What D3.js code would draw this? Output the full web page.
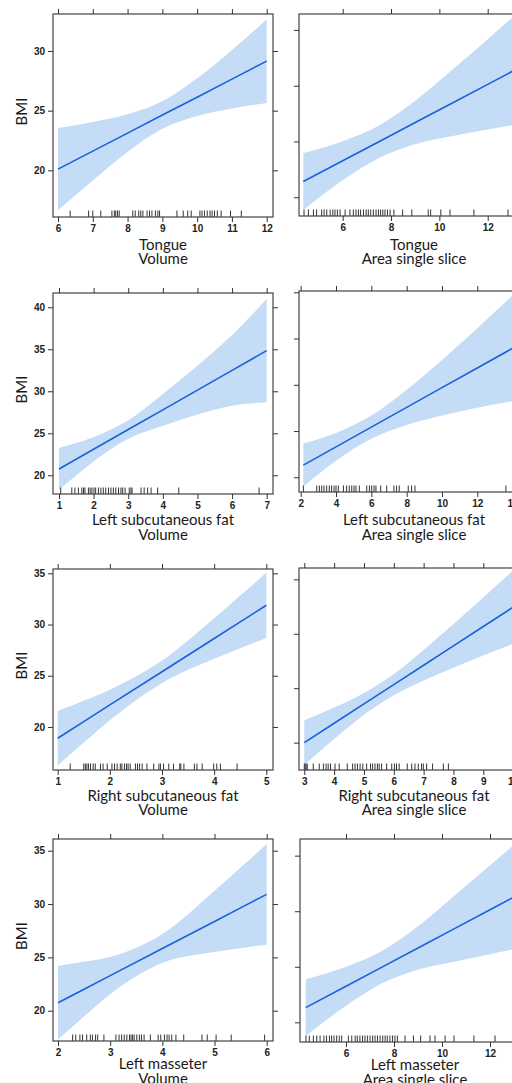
<!DOCTYPE html>
<html>
<head>
<meta charset="utf-8">
<script src="https://cdn.jsdelivr.net/npm/d3@7"></script>
<style>
body { margin: 0; background: #fff; }
svg { display: block; overflow: hidden; }
.axis path.domain { display: none; }
.axis line { stroke: #333; }
.axis text { font-family: "Liberation Sans", Arial, sans-serif; font-size: 10px; font-weight: bold; fill: #222; }
.title { font-family: Lato, "Open Sans", sans-serif; font-size: 15px; fill: #1a1a1a; }
</style>
</head>
<body>
<script>
// ---- data (BMI effect plots with 95% band + rug) ----

// Tongue / Volume
var tongueVolX   = [6, 7, 8, 9, 10, 11, 12];
var tongueVolFit = [20.1, 21.61, 23.12, 24.63, 26.13, 27.64, 29.15];
var tongueVolLo  = [16.65, 19.15, 21.54, 23.48, 24.55, 25.19, 25.65];
var tongueVolHi  = [23.55, 24.06, 24.7, 25.78, 27.71, 30.09, 32.65];
var tongueVolRug = [6.35, 6.88, 7.0, 7.23, 7.55, 7.62, 7.66, 7.71, 7.76, 8.15, 8.22, 8.32, 8.38, 8.44, 8.56, 8.63,
                    8.70, 8.80, 8.87, 8.92, 9.42, 9.6, 9.73, 9.83, 10.08, 10.14, 10.21, 10.29, 10.37, 10.43, 10.5,
                    10.58, 10.69, 10.96, 11.27];
var tongueVolXTicks = [6, 7, 8, 9, 10, 11, 12];
var tongueVolYTicks = [20, 25, 30];

// Tongue / Area single slice
var tongueAreaX   = [4.37, 6, 7.5, 9, 10.5, 12, 13.02];
var tongueAreaFit = [21.41, 23.27, 24.98, 26.7, 28.41, 30.12, 31.29];
var tongueAreaLo  = [18.86, 21.52, 23.53, 24.75, 25.46, 26.07, 26.46];
var tongueAreaHi  = [23.96, 25.02, 26.43, 28.65, 31.36, 34.17, 36.12];
var tongueAreaRug = [4.4, 4.58, 4.79, 4.92, 5.13, 5.23, 5.34, 5.48, 5.59, 5.68, 5.78, 5.89, 6.1, 6.3, 6.44, 6.55,
                     6.65, 6.74, 6.86, 6.97, 7.06, 7.16, 7.27, 7.38, 7.48, 7.57, 7.66, 7.75, 7.85, 7.96, 8.12,
                     8.48, 8.86, 9.54, 9.64, 10.06, 10.44, 11.43, 12.84];
var tongueAreaXTicks = [6, 8, 10, 12];
var tongueAreaYTicks = [20, 25, 30, 35];

// Left subcutaneous fat / Volume
var lsfVolX   = [1, 2, 3, 4, 5, 6, 7];
var lsfVolFit = [20.75, 23.1, 25.45, 27.79, 30.14, 32.49, 34.84];
var lsfVolLo  = [18.25, 21.65, 24.35, 25.89, 27.24, 28.29, 28.69];
var lsfVolHi  = [23.25, 24.55, 26.55, 29.69, 33.04, 36.69, 40.99];
var lsfVolRug = [1.05, 1.37, 1.46, 1.56, 1.66, 1.71, 1.75, 1.85, 1.9, 1.95, 2.01, 2.06, 2.14, 2.21, 2.28, 2.35,
                 2.43, 2.5, 2.57, 2.64, 2.72, 2.79, 2.84, 2.91, 3.03, 3.08, 3.11, 3.37, 3.46, 3.56, 3.66, 3.85,
                 4.46, 6.78];
var lsfVolXTicks = [1, 2, 3, 4, 5, 6, 7];
var lsfVolYTicks = [20, 25, 30, 35, 40];

// Left subcutaneous fat / Area single slice
var lsfAreaX   = [2.15, 4, 6, 8, 10, 12, 13.98];
var lsfAreaFit = [21.32, 23.29, 25.42, 27.56, 29.69, 31.82, 33.93];
var lsfAreaLo  = [18.99, 21.79, 24.17, 25.66, 26.69, 27.52, 28.23];
var lsfAreaHi  = [23.65, 24.79, 26.67, 29.46, 32.69, 36.12, 39.63];
var lsfAreaRug = [2.15, 2.91, 3.06, 3.19, 3.32, 3.47, 3.62, 3.75, 3.89, 4.0, 4.13, 4.42, 4.6, 4.75, 4.89, 5.02,
                  5.13, 5.32, 5.74, 5.89, 6.02, 6.15, 6.26, 6.53, 6.87, 7.28, 7.43, 7.58, 8.09, 8.28, 8.47, 13.62];
var lsfAreaXTicks = [2, 4, 6, 8, 10, 12, 14];
var lsfAreaYTicks = [20, 25, 30, 35, 40];

// Right subcutaneous fat / Volume
var rsfVolX   = [1, 1.5, 2, 3, 4, 4.5, 5];
var rsfVolFit = [18.9, 20.52, 22.15, 25.39, 28.64, 30.26, 31.88];
var rsfVolLo  = [16.25, 18.48, 20.66, 24.3, 26.67, 27.69, 28.68];
var rsfVolHi  = [21.55, 22.56, 23.64, 26.48, 30.61, 32.83, 35.08];
var rsfVolRug = [1.24, 1.5, 1.53, 1.56, 1.59, 1.63, 1.68, 1.72, 1.82, 1.87, 1.95, 2.04, 2.09, 2.14, 2.2, 2.23,
                 2.28, 2.32, 2.35, 2.39, 2.49, 2.53, 2.57, 2.62, 2.71, 2.84, 2.94, 2.97, 3.03, 3.13, 3.22, 3.34,
                 3.36, 3.42, 3.62, 3.67, 3.77, 3.99, 4.05, 4.12, 4.44];
var rsfVolXTicks = [1, 2, 3, 4, 5];
var rsfVolYTicks = [20, 25, 30, 35];

// Right subcutaneous fat / Area single slice
var rsfAreaX   = [3, 4, 5, 6, 7, 8, 9, 9.97];
var rsfAreaFit = [20.0, 21.78, 23.56, 25.33, 27.11, 28.89, 30.67, 32.39];
var rsfAreaLo  = [17.95, 20.34, 22.56, 24.35, 25.7, 26.88, 28.0, 29.04];
var rsfAreaHi  = [22.05, 23.22, 24.56, 26.31, 28.52, 30.9, 33.34, 35.74];
var rsfAreaRug = [3.0, 3.03, 3.06, 3.1, 3.3, 3.5, 3.64, 3.73, 3.8, 3.88, 4.03, 4.17, 4.44, 4.62, 4.7, 4.78, 4.87,
                  4.96, 5.09, 5.22, 5.29, 5.37, 5.45, 5.51, 5.59, 5.76, 5.93, 6.02, 6.09, 6.18, 6.45, 6.6, 6.71,
                  6.82, 6.93, 6.99, 7.1, 7.3, 7.66, 7.83];
var rsfAreaXTicks = [3, 4, 5, 6, 7, 8, 9, 10];
var rsfAreaYTicks = [20, 25, 30, 35];

// Left masseter / Volume
var lmVolX   = [2, 2.5, 3, 4, 5, 5.5, 6];
var lmVolFit = [20.75, 22.02, 23.29, 25.83, 28.37, 29.64, 30.91];
var lmVolLo  = [17.3, 19.46, 21.54, 24.47, 25.5, 25.86, 26.19];
var lmVolHi  = [24.2, 24.58, 25.04, 27.19, 31.24, 33.42, 35.63];
var lmVolRug = [2.28, 2.34, 2.42, 2.47, 2.55, 2.62, 2.66, 2.72, 2.76, 2.88, 3.11, 3.17, 3.22, 3.27, 3.32, 3.37,
                3.4, 3.43, 3.46, 3.51, 3.56, 3.6, 3.65, 3.77, 3.92, 3.97, 4.04, 4.09, 4.13, 4.18, 4.26, 4.41,
                4.76, 4.86, 5.03, 5.32, 5.96];
var lmVolXTicks = [2, 3, 4, 5, 6];
var lmVolYTicks = [20, 25, 30, 35];

// Left masseter / Area single slice
var lmAreaX   = [4.32, 6, 7.5, 9, 10.5, 12, 12.93];
var lmAreaFit = [21.32, 23.25, 24.97, 26.69, 28.41, 30.13, 31.2];
var lmAreaLo  = [18.77, 21.5, 23.52, 24.74, 25.46, 26.13, 26.55];
var lmAreaHi  = [23.87, 25.0, 26.42, 28.64, 31.36, 34.13, 35.85];
var lmAreaRug = [4.33, 4.47, 4.64, 4.78, 4.92, 5.08, 5.19, 5.31, 5.4, 5.5, 5.61, 5.72, 5.82, 6.1, 6.24, 6.38,
                 6.47, 6.58, 6.69, 6.79, 6.89, 7.0, 7.11, 7.21, 7.31, 7.42, 7.53, 7.63, 7.72, 7.83, 7.94, 8.04,
                 8.14, 8.46, 8.81, 9.11, 9.5, 9.71, 10.13, 10.5, 11.33, 12.21];
var lmAreaXTicks = [6, 8, 10, 12];
var lmAreaYTicks = [20, 25, 30, 35];

// ---- layout ----
var W = 512, H = 1083;
var bandColor = "#c5dcf6", lineColor = "#1662dc";

// box = [left, top, right, bottom] in px, dom = visible data range of the box
var panels = [
  {title: ["Tongue", "Volume"], x: tongueVolX, fit: tongueVolFit, lo: tongueVolLo, hi: tongueVolHi, rug: tongueVolRug,
   xt: tongueVolXTicks, yt: tongueVolYTicks, xDom: [5.856, 12.181], yDom: [16.09, 33.1], box: [53, 14, 273, 217], left: true, tdy: [32.5, 47]},
  {title: ["Tongue", "Area single slice"], x: tongueAreaX, fit: tongueAreaFit, lo: tongueAreaLo, hi: tongueAreaHi, rug: tongueAreaRug,
   xt: tongueAreaXTicks, yt: tongueAreaYTicks, xDom: [4.192, 13.295], yDom: [18.32, 36.43], box: [299, 14, 519, 216], left: false, tdy: [33.5, 48]},
  {title: ["Left subcutaneous fat", "Volume"], x: lsfVolX, fit: lsfVolFit, lo: lsfVolLo, hi: lsfVolHi, rug: lsfVolRug,
   xt: lsfVolXTicks, yt: lsfVolYTicks, xDom: [0.827, 7.182], yDom: [17.77, 41.7], box: [53, 293, 273, 494], left: true, tdy: [31.4, 45.7]},
  {title: ["Left subcutaneous fat", "Area single slice"], x: lsfAreaX, fit: lsfAreaFit, lo: lsfAreaLo, hi: lsfAreaHi, rug: lsfAreaRug,
   xt: lsfAreaXTicks, yt: lsfAreaYTicks, xDom: [1.904, 14.361], yDom: [18.41, 40.14], box: [299, 291, 519, 492], left: false, tdy: [33.4, 47.7]},
  {title: ["Right subcutaneous fat", "Volume"], x: rsfVolX, fit: rsfVolFit, lo: rsfVolLo, hi: rsfVolHi, rug: rsfVolRug,
   xt: rsfVolXTicks, yt: rsfVolYTicks, xDom: [0.91, 5.128], yDom: [15.8, 35.42], box: [53, 569, 273, 770], left: true, tdy: [30.7, 45]},
  {title: ["Right subcutaneous fat", "Area single slice"], x: rsfAreaX, fit: rsfAreaFit, lo: rsfAreaLo, hi: rsfAreaHi, rug: rsfAreaRug,
   xt: rsfAreaXTicks, yt: rsfAreaYTicks, xDom: [2.822, 10.197], yDom: [17.49, 36.04], box: [299, 568, 519, 770], left: false, tdy: [30.7, 45]},
  {title: ["Left masseter", "Volume"], x: lmVolX, fit: lmVolFit, lo: lmVolLo, hi: lmVolHi, rug: lmVolRug,
   xt: lmVolXTicks, yt: lmVolYTicks, xDom: [1.904, 6.121], yDom: [17.16, 36.1], box: [53, 839, 273, 1041], left: true, tdy: [28, 42.5]},
  {title: ["Left masseter", "Area single slice"], x: lmAreaX, fit: lmAreaFit, lo: lmAreaLo, hi: lmAreaHi, rug: lmAreaRug,
   xt: lmAreaXTicks, yt: lmAreaYTicks, xDom: [4.083, 13.25], yDom: [18.23, 36.5], box: [300, 839, 520, 1042], left: false, tdy: [28, 42.5]}
];

var svg = d3.select("body").append("svg")
    .attr("width", W)
    .attr("height", H);

svg.append("rect").attr("width", W).attr("height", H).attr("fill", "#fff");

panels.forEach(function(p, i) {
  var b = p.box;
  var x = d3.scaleLinear().domain(p.xDom).range([b[0], b[2]]);
  var y = d3.scaleLinear().domain(p.yDom).range([b[3], b[1]]);
  var g = svg.append("g");

  g.append("clipPath").attr("id", "clip" + i)
    .append("rect")
      .attr("x", b[0]).attr("y", b[1])
      .attr("width", b[2] - b[0]).attr("height", b[3] - b[1]);

  var pts = p.x.map(function(v, k) { return {x: v, fit: p.fit[k], lo: p.lo[k], hi: p.hi[k]}; });

  // confidence band
  g.append("path").datum(pts)
    .attr("clip-path", "url(#clip" + i + ")")
    .attr("fill", bandColor)
    .attr("d", d3.area().curve(d3.curveMonotoneX)
      .x(function(d) { return x(d.x); })
      .y0(function(d) { return y(d.lo); })
      .y1(function(d) { return y(d.hi); }));

  // fitted line
  g.append("path").datum(pts)
    .attr("fill", "none")
    .attr("stroke", lineColor)
    .attr("stroke-width", 1.6)
    .attr("d", d3.line()
      .x(function(d) { return x(d.x); })
      .y(function(d) { return y(d.fit); }));

  // rug
  g.selectAll("line.rug").data(p.rug).enter().append("line")
    .attr("class", "rug")
    .attr("x1", function(d) { return x(d); })
    .attr("x2", function(d) { return x(d); })
    .attr("y1", b[3])
    .attr("y2", b[3] - 6.5)
    .attr("stroke", "#333")
    .attr("stroke-width", 1);

  // frame
  g.append("rect")
    .attr("x", b[0]).attr("y", b[1])
    .attr("width", b[2] - b[0]).attr("height", b[3] - b[1])
    .attr("fill", "none")
    .attr("stroke", "#444")
    .attr("stroke-width", 1.2);

  // axes: ticks outside on all four sides, labels bottom + left column only
  g.append("g").attr("class", "axis")
    .attr("transform", "translate(0," + b[3] + ")")
    .call(d3.axisBottom(x).tickValues(p.xt).tickSize(5).tickPadding(3).tickFormat(d3.format("d")));
  g.append("g").attr("class", "axis")
    .attr("transform", "translate(0," + b[1] + ")")
    .call(d3.axisTop(x).tickValues(p.xt).tickSize(5).tickFormat(""));
  g.append("g").attr("class", "axis")
    .attr("transform", "translate(" + b[0] + ",0)")
    .call(d3.axisLeft(y).tickValues(p.yt).tickSize(5).tickPadding(3)
      .tickFormat(p.left ? d3.format("d") : ""));
  g.append("g").attr("class", "axis")
    .attr("transform", "translate(" + b[2] + ",0)")
    .call(d3.axisRight(y).tickValues(p.yt).tickSize(5).tickFormat(""));

  // x title (two lines)
  var cx = p.left ? (b[0] + b[2]) / 2 : (b[0] + b[2]) / 2 + 5;
  p.title.forEach(function(t, k) {
    g.append("text").attr("class", "title")
      .attr("x", cx)
      .attr("y", b[3] + p.tdy[k])
      .attr("text-anchor", "middle")
      .text(t);
  });

  // y title
  if (p.left) {
    var cy = (b[1] + b[3]) / 2 - 4;
    g.append("text").attr("class", "title")
      .attr("transform", "translate(27," + cy + ") rotate(-90)")
      .attr("text-anchor", "middle")
      .text("BMI");
  }
});
</script>
</body>
</html>
